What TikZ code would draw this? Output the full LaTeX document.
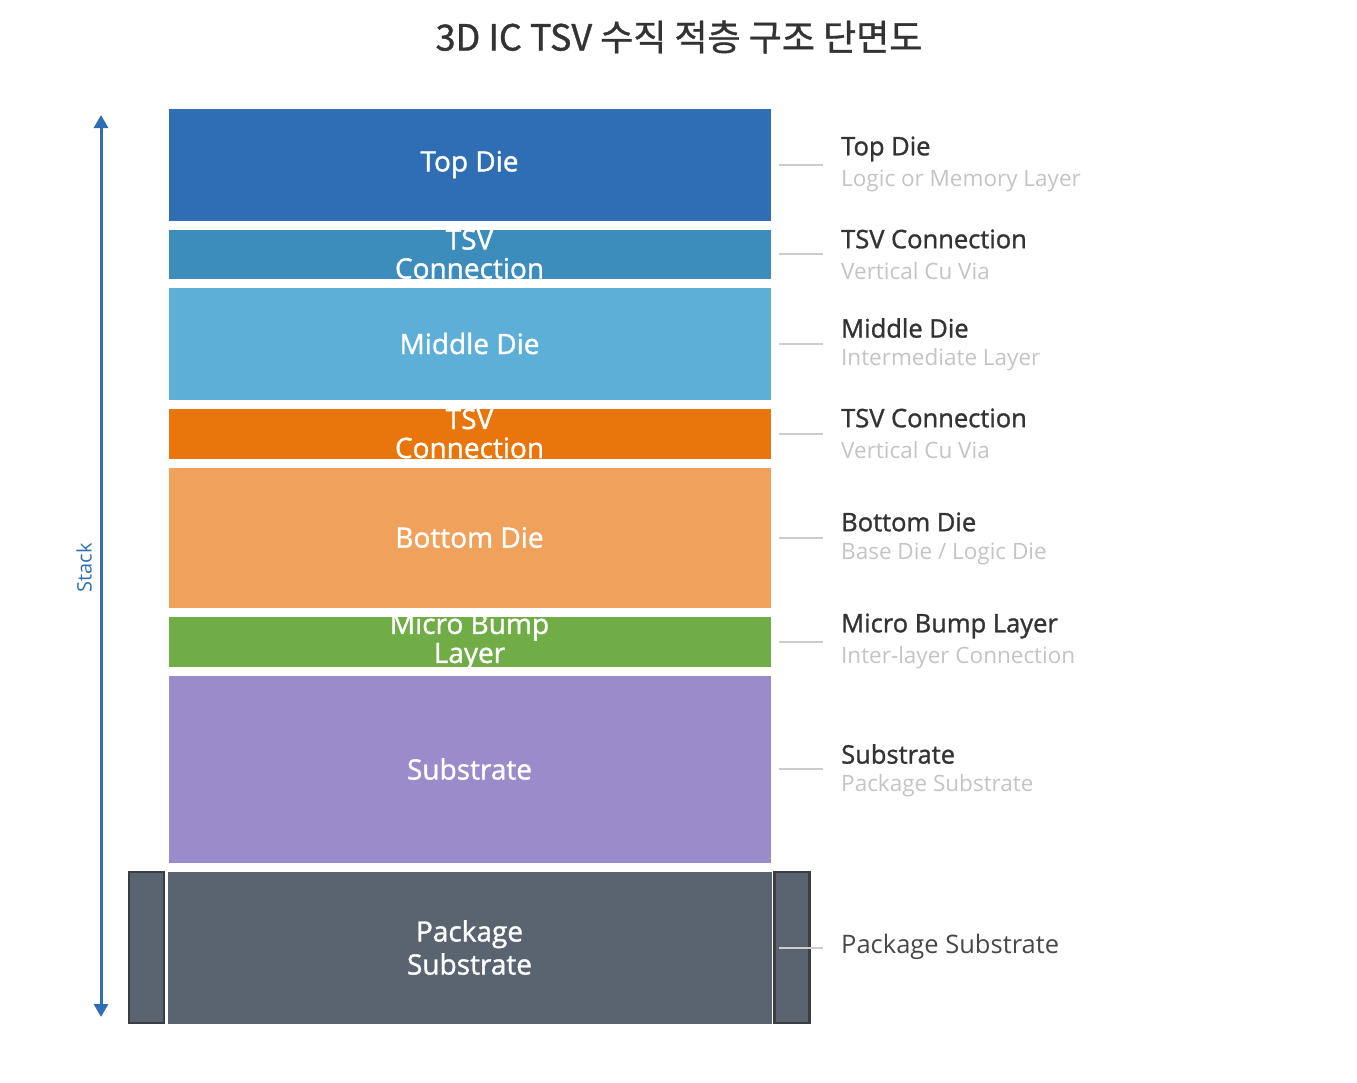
\documentclass[tikz,border=0pt]{standalone}
\usepackage{fontspec}
\setmainfont{Open Sans}
\newfontfamily\cjkfont[FakeBold=1.0]{Noto Sans CJK KR}
\newfontfamily\medfont[FakeBold=1.2]{Open Sans}
\usetikzlibrary{calc,arrows.meta}
\definecolor{cTop}{HTML}{2F6EB5}
\definecolor{cTsvA}{HTML}{3C8DBC}
\definecolor{cMid}{HTML}{5EAFD8}
\definecolor{cTsvB}{HTML}{E8760C}
\definecolor{cBot}{HTML}{F0A15C}
\definecolor{cBump}{HTML}{70AD47}
\definecolor{cSub}{HTML}{9B8BCA}
\definecolor{cPkg}{HTML}{5A6470}
\definecolor{cPkgEdge}{HTML}{3A3D42}
\definecolor{cTitle}{HTML}{333333}
\definecolor{cSubT}{HTML}{C4C4C4}
\definecolor{cLine}{HTML}{CCCCCC}
\begin{document}
\begin{tikzpicture}[x=1pt,y=-1pt,
  layerbox/.style={draw=white, line width=0.6pt, minimum width=603pt, inner sep=0pt, outer sep=0pt},
  boxtext/.style={text=white, font=\medfont\fontsize{28}{29}\selectfont, align=center},
  conn/.style={draw=cLine, line width=2pt},
  rtitle/.style={anchor=west, text=cTitle, font=\medfont\fontsize{25.5}{28}\selectfont, inner sep=0pt},
  rsub/.style={anchor=west, text=cSubT, font=\fontsize{22.5}{24}\selectfont, inner sep=0pt},
  bracket/.style={draw=cPkgEdge, fill=cPkg, line width=2.5pt, minimum width=35pt, minimum height=151pt, inner sep=0pt}
]
\path[use as bounding box] (0,0) rectangle (1357,1082);
\node[text=cTitle, font=\cjkfont\fontsize{36}{40}\selectfont] (title) at (679,37) {3D IC TSV 수직 적층 구조 단면도};

% layers
\node[layerbox, fill=cTop, minimum height=113pt] (top) at (469.5,164.5) {};
\node[layerbox, fill=cTsvA, minimum height=50pt] (tsva) at (469.5,254) {};
\node[layerbox, fill=cMid, minimum height=113pt] (mid) at (469.5,343.5) {};
\node[layerbox, fill=cTsvB, minimum height=51pt] (tsvb) at (469.5,433.5) {};
\node[layerbox, fill=cBot, minimum height=141pt] (bot) at (469.5,537.5) {};
\node[layerbox, fill=cBump, minimum height=51pt] (bump) at (469.5,641.5) {};
\node[layerbox, fill=cSub, minimum height=188pt] (sub) at (469.5,769) {};
\node[bracket] (bl) at (146.5,947.5) {};
\node[bracket] (br) at (792,947.5) {};
\node[layerbox, draw=white, fill=cPkg, minimum width=605pt, minimum height=153pt] (pkg) at (469.5,947.5) {};

% labels inside boxes
\foreach \b/\t in {top/{Top Die}, tsva/{TSV\\Connection}, mid/{Middle Die}, tsvb/{TSV\\Connection}, bot/{Bottom Die}, bump/{Micro Bump\\Layer}, sub/{Substrate}}{
  \begin{scope}
    \clip (\b.south west) rectangle (\b.north east);
    \node[boxtext] (lbl-\b) at (\b) {\t};
  \end{scope}
}
\node[boxtext, font=\medfont\fontsize{28}{33}\selectfont] (lbl-pkg) at (pkg) {Package\\Substrate};

% stack arrow
\coordinate (aTop) at (101,115);
\coordinate (aBot) at (101,1017);
\draw[cTop, line width=3pt, {Triangle[length=13pt,width=14pt]}-{Triangle[length=13pt,width=14pt]}] (aTop) -- (aBot);
\node[text=cTop, rotate=90, font=\fontsize{20}{22}\selectfont] (stack) at (84,568) {Stack};

% connectors and right labels
\foreach \b/\ti/\su/\y in {top/{Top Die}/{Logic or Memory Layer}/164, tsva/{TSV Connection}/{Vertical Cu Via}/254, mid/{Middle Die}/{Intermediate Layer}/343, tsvb/{TSV Connection}/{Vertical Cu Via}/433, bot/{Bottom Die}/{Base Die / Logic Die}/537, bump/{Micro Bump Layer}/{Inter-layer Connection}/641, sub/{Substrate}/{Package Substrate}/769}{
  \draw[conn] ($(\b.east)+(8,0)$) -- ($(\b.east)+(52,0)$);
  \node[rtitle] (rt-\b) at (841,\y-15) {\ti};
  \node[rsub] (rs-\b) at (841,\y+17) {\su};
}
\draw[conn] ($(pkg.east)+(7,0)$) -- ($(pkg.east)+(51,0)$);
\node[rtitle, font=\fontsize{25.5}{28}\selectfont, text=cTitle!90] (rt-pkg) at (841,947) {Package Substrate};
\end{tikzpicture}
\end{document}
